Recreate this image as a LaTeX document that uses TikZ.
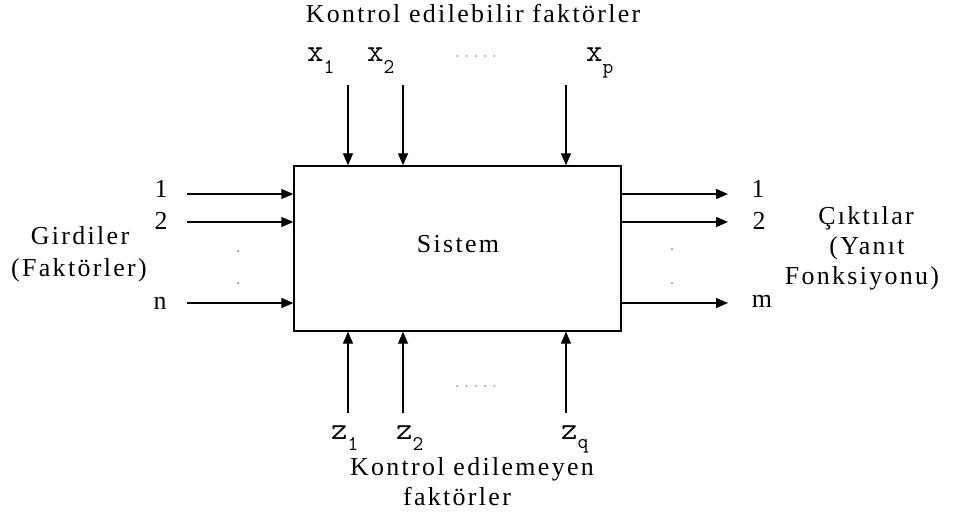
\documentclass[tikz,border=0pt]{standalone}
\usepackage{fontspec}
\setmainfont{Liberation Serif}[LetterSpace=9]
\usetikzlibrary{arrows.meta}
\newcommand{\subv}[3]{#1\raisebox{-#3bp}{\fontsize{21}{21}\selectfont #2}}
\begin{document}
\begin{tikzpicture}[x=1bp,y=-1bp,
  arr/.style={draw=black, line width=1.3bp, -{Triangle[length=12bp,width=10bp]}},
  txt/.style={font=\fontsize{26}{31}\selectfont, inner sep=0pt, anchor=base},
  var/.style={font=\ttfamily\fontsize{32}{32}\selectfont, inner sep=0pt, anchor=base west},
  dotn/.style={fill=gray!70, inner sep=0pt, minimum size=2.2bp},
  dots/.style={font=\ttfamily\fontsize{18}{18}\selectfont, text=gray!70, inner sep=0pt}]
\useasboundingbox (0,0) rectangle (954,512);
\fill[white] (0,0) rectangle (954,512);
% system box
\node[draw, line width=1.3bp, minimum width=327bp, minimum height=165bp, inner sep=0pt] (box) at (457.5,248.5) {};
\node[txt] (sis) at (458,253) {Sistem};
% top
\node[txt] (ttl) at (473,23) {Kontrol edilebilir faktörler};
\coordinate (t1) at (348,85);
\coordinate (t2) at (403,85);
\coordinate (t3) at (566,85);
\draw[arr] (t1) -- (t1 |- box.north);
\draw[arr] (t2) -- (t2 |- box.north);
\draw[arr] (t3) -- (t3 |- box.north);
\node[var] (x1) at (307,62) {\subv{x}{1}{12}};
\node[var] (x2) at (367,62) {\subv{x}{2}{12}};
\node[var] (xp) at (586,62) {\subv{x}{p}{12}};
\node[dots] (tdots) at (476,56) {.....};
% bottom
\coordinate (b1) at (348,413);
\coordinate (b2) at (403,413);
\coordinate (b3) at (566,413);
\draw[arr] (b1) -- (b1 |- box.south);
\draw[arr] (b2) -- (b2 |- box.south);
\draw[arr] (b3) -- (b3 |- box.south);
\node[var] (z1) at (331,439) {\subv{z}{1}{11}};
\node[var] (z2) at (396,439) {\subv{z}{2}{11}};
\node[var] (zq) at (561,439) {\subv{z}{q}{9}};
\node[dots] (bdots) at (476,386) {.....};
\node[txt] (btl1) at (472,475) {Kontrol edilemeyen};
\node[txt] (btl2) at (457,505) {faktörler};
% left inputs
\coordinate (l1) at (187,194);
\coordinate (l2) at (187,222);
\coordinate (l3) at (187,303);
\draw[arr] (l1) -- (l1 -| box.west);
\draw[arr] (l2) -- (l2 -| box.west);
\draw[arr] (l3) -- (l3 -| box.west);
\node[txt] (in1) at (161,198) {1};
\node[txt] (in2) at (161,230) {2};
\node[txt] (inn) at (160,310) {n};
\node[dotn] (ld1) at (238,251) {};
\node[dotn] (ld2) at (238,283) {};
\node[txt] (gir1) at (80,245) {Girdiler};
\node[txt] (gir2) at (79,277) {(Faktörler)};
% right outputs
\coordinate (r1) at (728,194);
\coordinate (r2) at (728,222);
\coordinate (r3) at (728,303);
\draw[arr] (r1 -| box.east) -- (r1);
\draw[arr] (r2 -| box.east) -- (r2);
\draw[arr] (r3 -| box.east) -- (r3);
\node[txt] (out1) at (758,198) {1};
\node[txt] (out2) at (759,230) {2};
\node[txt] (outm) at (762,308) {m};
\node[dotn] (rd1) at (672,249) {};
\node[dotn] (rd2) at (672,283) {};
\node[txt] (cik1) at (866,225) {Çıktılar};
\node[txt] (cik2) at (867,255) {(Yanıt};
\node[txt] (cik3) at (862,285) {Fonksiyonu)};
\end{tikzpicture}
\end{document}
